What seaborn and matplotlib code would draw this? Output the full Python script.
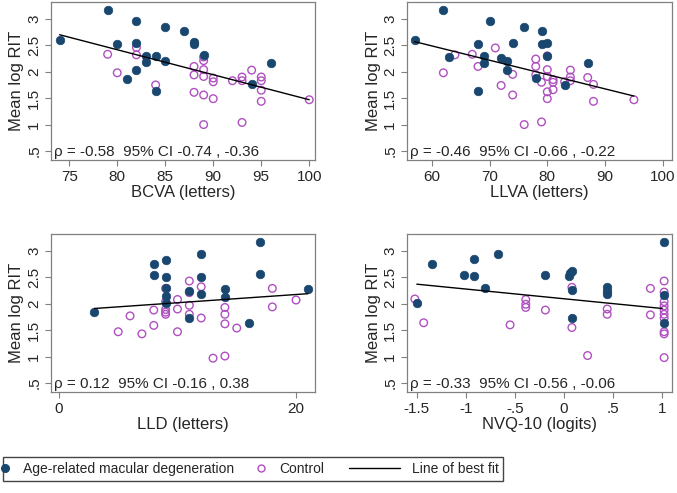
import matplotlib
matplotlib.use("Agg")
import matplotlib.pyplot as plt
from matplotlib.lines import Line2D
from matplotlib.patches import Rectangle
import seaborn as sns

sns.set_theme(style="ticks")
plt.rcParams['font.family'] = ['Liberation Sans', 'DejaVu Sans']

# colours
amd_color = '#1a476f'
ctl_color = '#b050c0'
spine_color = '#808080'

# --- data ---
bcva_amd_x = [74, 79, 80, 81, 82, 82, 82, 83, 83, 84, 84, 85, 85, 87, 88, 88, 89, 94, 96]
bcva_amd_y = [2.60, 3.17, 2.53, 1.87, 2.96, 2.54, 2.03, 2.30, 2.18, 2.29, 1.64, 2.84, 2.20, 2.77, 2.57, 2.52, 2.31, 1.76, 2.16]
bcva_ctl_x = [79, 80, 82, 82, 84, 88, 88, 88, 89, 89, 89, 89, 89, 89, 90, 90, 90, 92, 93, 93, 93, 94, 95, 95, 95, 95, 100]
bcva_ctl_y = [2.33, 1.98, 2.46, 2.32, 1.75, 2.10, 1.94, 1.61, 2.28, 2.21, 2.04, 1.91, 1.56, 1.00, 1.88, 1.81, 1.49, 1.83, 1.90, 1.83, 1.04, 2.03, 1.90, 1.83, 1.65, 1.44, 1.47]
bcva_fit_x = [74, 100]
bcva_fit_y = [2.70, 1.47]

llva_amd_x = [57, 62, 63, 68, 68, 69, 69, 70, 72, 73, 73, 74, 76, 78, 79, 79, 80, 80, 83, 87]
llva_amd_y = [2.60, 3.17, 2.28, 2.53, 1.64, 2.30, 2.16, 2.96, 2.26, 2.20, 2.04, 2.54, 2.84, 1.88, 2.77, 2.53, 2.55, 2.30, 1.74, 2.16]
llva_ctl_x = [62, 64, 67, 68, 71, 72, 74, 74, 76, 78, 78, 78, 79, 79, 80, 80, 80, 80, 80, 81, 81, 81, 83, 84, 84, 84, 87, 88, 88, 95]
llva_ctl_y = [1.98, 2.32, 2.33, 2.10, 2.45, 1.74, 1.95, 1.56, 1.00, 2.24, 2.10, 1.94, 1.80, 1.05, 2.30, 2.04, 1.91, 1.62, 1.49, 1.85, 1.80, 1.66, 1.81, 2.03, 1.90, 1.83, 1.89, 1.76, 1.44, 1.47]
llva_fit_x = [57, 95]
llva_fit_y = [2.57, 1.54]

lld_amd_x = [3, 8, 8, 9, 9, 9, 9, 9, 11, 11, 12, 12, 12, 14, 14, 16, 17, 17, 21]
lld_amd_y = [1.85, 2.75, 2.54, 2.83, 2.51, 2.29, 2.15, 2.01, 2.24, 1.73, 2.95, 2.50, 2.18, 2.28, 2.13, 1.63, 3.16, 2.57, 2.28]
lld_ctl_x = [5, 6, 7, 8, 8, 9, 9, 9, 9, 9, 10, 10, 10, 11, 11, 11, 11, 12, 12, 13, 14, 14, 14, 14, 15, 18, 18, 20]
lld_ctl_y = [1.47, 1.77, 1.43, 1.88, 1.59, 2.29, 2.04, 1.89, 1.84, 1.80, 2.08, 1.90, 1.47, 2.43, 2.21, 1.97, 1.80, 2.32, 1.73, 0.97, 1.93, 1.80, 1.62, 1.01, 1.54, 2.29, 1.94, 2.07]
lld_fit_x = [3, 21]
lld_fit_y = [1.91, 2.19]

nvq_amd_x = [-1.50, -1.35, -1.02, -0.92, -0.92, -0.81, -0.67, -0.19, 0.05, 0.06, 0.08, 0.08, 0.08, 0.44, 0.44, 0.44, 1.02, 1.02, 1.02]
nvq_amd_y = [2.02, 2.76, 2.54, 2.84, 2.52, 2.29, 2.95, 2.54, 2.53, 2.59, 2.61, 2.26, 1.73, 2.31, 2.24, 2.18, 3.16, 2.16, 1.63]
nvq_ctl_x = [-1.52, -1.43, -0.55, -0.39, -0.39, -0.39, -0.19, 0.08, 0.08, 0.24, 0.44, 0.44, 0.88, 0.88, 1.02, 1.02, 1.02, 1.02, 1.02, 1.02, 1.02, 1.02, 1.02, 1.02]
nvq_ctl_y = [2.09, 1.64, 1.60, 2.08, 1.99, 1.93, 1.88, 2.31, 1.55, 1.02, 1.90, 1.80, 2.29, 1.79, 2.43, 2.22, 2.04, 1.96, 1.88, 1.80, 1.73, 1.47, 1.43, 0.98]
nvq_fit_x = [-1.5, 1.0]
nvq_fit_y = [2.37, 1.91]

xlabels = ["BCVA (letters)", "LLVA (letters)", "LLD (letters)", "NVQ-10 (logits)"]
annotations = ["ρ = -0.58  95% CI -0.74 , -0.36",
               "ρ = -0.46  95% CI -0.66 , -0.22",
               "ρ = 0.12  95% CI -0.16 , 0.38",
               "ρ = -0.33  95% CI -0.56 , -0.06"]
xticks = [[75, 80, 85, 90, 95, 100], [60, 70, 80, 90, 100], [0, 20], [-1.5, -1, -0.5, 0, 0.5, 1]]
xticklabels = [["75", "80", "85", "90", "95", "100"], ["60", "70", "80", "90", "100"],
               ["0", "20"], ["-1.5", "-1", "-.5", "0", ".5", "1"]]
xlims = [(73.1, 100.6), (55.7, 101.6), (-0.67, 21.6), (-1.60, 1.10)]
yticks = [0.5, 1, 1.5, 2, 2.5, 3]
yticklabels = [".5", "1", "1.5", "2", "2.5", "3"]

panels = [
    (bcva_amd_x, bcva_amd_y, bcva_ctl_x, bcva_ctl_y, bcva_fit_x, bcva_fit_y),
    (llva_amd_x, llva_amd_y, llva_ctl_x, llva_ctl_y, llva_fit_x, llva_fit_y),
    (lld_amd_x, lld_amd_y, lld_ctl_x, lld_ctl_y, lld_fit_x, lld_fit_y),
    (nvq_amd_x, nvq_amd_y, nvq_ctl_x, nvq_ctl_y, nvq_fit_x, nvq_fit_y),
]

# axes rectangles in figure fractions
rects = [
    [0.0753, 0.6755, 0.390, 0.3205],
    [0.6012, 0.6755, 0.3914, 0.3205],
    [0.0753, 0.2049, 0.390, 0.3205],
    [0.6012, 0.2049, 0.3914, 0.3205],
]

fig = plt.figure(figsize=(6.77, 4.93), dpi=100)

for i, (ax_x, ax_y, cx, cy, fx, fy) in enumerate(panels):
    ax = fig.add_axes(rects[i])
    sns.scatterplot(x=cx, y=cy, ax=ax, marker='o', s=30, color=ctl_color,
                    facecolor='none', edgecolor=ctl_color, linewidth=1.0, zorder=2)
    sns.scatterplot(x=ax_x, y=ax_y, ax=ax, marker='o', s=38, color=amd_color,
                    edgecolor=amd_color, linewidth=0.5, zorder=3)
    sns.lineplot(x=fx, y=fy, ax=ax, color='black', linewidth=1.0, zorder=4)

    ax.set_xlim(*xlims[i])
    ax.set_ylim(0.33, 3.32)
    ax.set_xticks(xticks[i])
    ax.set_xticklabels(xticklabels[i], fontsize=11)
    ax.set_yticks(yticks)
    ax.set_yticklabels(yticklabels, fontsize=11, rotation=90, va='center')
    ax.set_xlabel(xlabels[i], fontsize=12, labelpad=1)
    ax.set_ylabel("Mean log RIT", fontsize=12, labelpad=2)
    ax.tick_params(axis='both', direction='out', length=4, width=0.8,
                   color=spine_color, pad=3)
    for sp in ax.spines.values():
        sp.set_color(spine_color)
        sp.set_linewidth(0.9)
    ax.text(0.01, 0.05, annotations[i], transform=ax.transAxes,
            fontsize=11, ha='left', va='center')

# legend: frame drawn as a rectangle, two frameless legends inside it
frame = Rectangle((3 / 677, 12 / 493), 500 / 677, 24 / 493, transform=fig.transFigure,
                  fill=False, edgecolor='#444444', linewidth=1.0)
fig.patches.append(frame)

h_amd = Line2D([], [], marker='o', linestyle='none', color=amd_color, markersize=5.5)
h_ctl = Line2D([], [], marker='o', linestyle='none', markerfacecolor='none',
               markeredgecolor=ctl_color, markeredgewidth=1.0, markersize=5)
h_fit = Line2D([], [], color='black', linewidth=1.0)

fig.legend(handles=[h_amd, h_ctl], labels=["Age-related macular degeneration", "Control"],
           loc='center left', bbox_to_anchor=(1 / 677, 1 - 469 / 493), ncol=2,
           frameon=False, fontsize=10, handlelength=0.6, handletextpad=1.0,
           columnspacing=1.65, borderpad=0, borderaxespad=0)
fig.legend(handles=[h_fit], labels=["Line of best fit"],
           loc='center left', bbox_to_anchor=(349 / 677, 1 - 469 / 493),
           frameon=False, fontsize=10, handlelength=3.67, handletextpad=0.86,
           borderpad=0, borderaxespad=0)

plt.savefig('out.png', dpi=100)
